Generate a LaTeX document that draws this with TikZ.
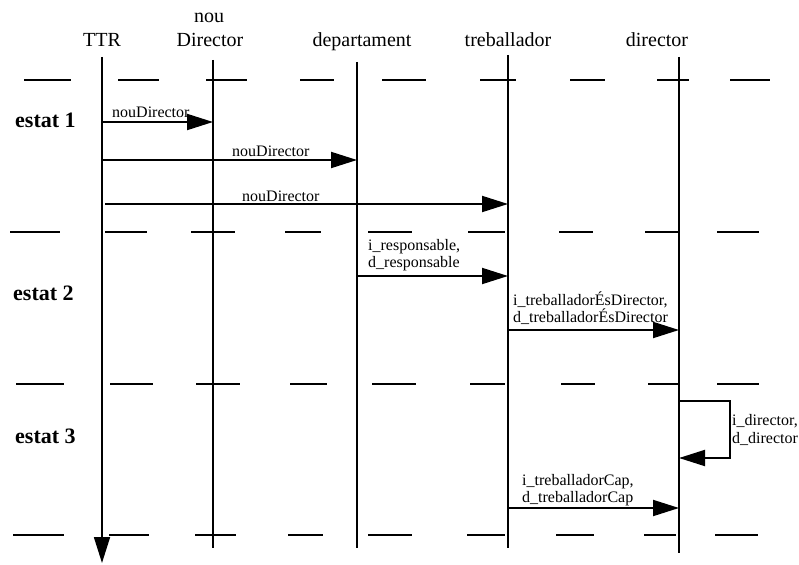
\documentclass[tikz,border=0pt]{standalone}
\usepackage{fontspec}
\setmainfont{Liberation Serif}
\usetikzlibrary{arrows.meta}
\begin{document}
\begin{tikzpicture}[x=1pt,y=-1pt,
  hdr/.style={font=\fontsize{20}{22}\selectfont,anchor=base,inner sep=0pt},
  state/.style={font=\bfseries\fontsize{22}{24}\selectfont,anchor=base west,inner sep=0pt},
  msglab/.style={font=\fontsize{16}{17}\selectfont,anchor=base west,inner sep=0pt},
  lifeline/.style={line width=1.7pt},
  sepdash/.style={line width=2.5pt},
  msg/.style={line width=1.9pt,-{Triangle[length=26pt,width=16pt]}},
  ]
\useasboundingbox (0,0) rectangle (799,564);

% headers
\node[hdr] (hTTR) at (102,47) {TTR};
\node[hdr] (hNou1) at (209,23) {nou};
\node[hdr] (hNou2) at (210,47) {Director};
\node[hdr] (hDep) at (362,47) {departament};
\node[hdr] (hTre) at (508,47) {treballador};
\node[hdr] (hDir) at (657,47) {director};

% lifeline ends
\coordinate (tTTR) at (102,57);  \coordinate (bTTR) at (102,563);
\coordinate (tNou) at (213,60);  \coordinate (bNou) at (213,548);
\coordinate (tDep) at (357,62);  \coordinate (bDep) at (357,548);
\coordinate (tTre) at (508,55);  \coordinate (bTre) at (508,548);
\coordinate (tDir) at (679,57);  \coordinate (bDir) at (679,553);

\draw[lifeline,-{Triangle[length=26pt,width=16pt]}] (tTTR) -- (bTTR);
\draw[lifeline] (tNou) -- (bNou);
\draw[lifeline] (tDep) -- (bDep);
\draw[lifeline] (tTre) -- (bTre);
\draw[lifeline] (tDir) -- (bDir);

% separator dashed rows
\foreach \a/\b in {24/71,118/159,206/247,300/334,382/426,480/516,570/605,657/689,730/770}
  \draw[sepdash] (\a,80) -- (\b,80);
\foreach \a/\b in {10/60,105/147,191/235,285/321,368/412,468/505,559/593,645/679,717/759}
  \draw[sepdash] (\a,232) -- (\b,232);
\foreach \a/\b in {16/64,110/153,196/240,290/327,372/416,470/505,561/595,648/679,717/759}
  \draw[sepdash] (\a,384) -- (\b,384);
\foreach \a/\b in {13/64,109/149,195/236,288/323,368/412,467/505,556/594,644/676,715/758}
  \draw[sepdash] (\a,535) -- (\b,535);

% state labels
\node[state] (s1) at (15,128) {estat 1};
\node[state] (s2) at (13,300) {estat 2};
\node[state] (s3) at (15,443) {estat 3};

% message points
\coordinate (m1a) at (102,122); \coordinate (m1b) at (213,122);
\coordinate (m2a) at (102,160); \coordinate (m2b) at (357,160);
\coordinate (m3a) at (105,204); \coordinate (m3b) at (508,204);
\coordinate (m4a) at (357,276); \coordinate (m4b) at (508,276);
\coordinate (m5a) at (508,330); \coordinate (m5b) at (679,330);
\coordinate (m6a) at (679,401); \coordinate (m6c1) at (730,401);
\coordinate (m6c2) at (730,458); \coordinate (m6b) at (679,458);
\coordinate (m7a) at (508,508); \coordinate (m7b) at (679,508);

\draw[msg] (m1a) -- (m1b);
\draw[msg] (m2a) -- (m2b);
\draw[msg] (m3a) -- (m3b);
\draw[msg] (m4a) -- (m4b);
\draw[msg] (m5a) -- (m5b);
\draw[msg] (m6a) -- (m6c1) -- (m6c2) -- (m6b);
\draw[msg] (m7a) -- (m7b);

% message labels
\node[msglab] (l1) at (112,118) {nouDirector};
\node[msglab] (l2) at (232,157) {nouDirector};
\node[msglab] (l3) at (242,201) {nouDirector};
\node[msglab] (l4a) at (368,250) {i\_responsable,};
\node[msglab] (l4b) at (368,267) {d\_responsable};
\node[msglab] (l5a) at (513,305) {i\_treballadorÉsDirector,};
\node[msglab] (l5b) at (513,322) {d\_treballadorÉsDirector};
\node[msglab] (l6a) at (732,425) {i\_director,};
\node[msglab] (l6b) at (732,443) {d\_director};
\node[msglab] (l7a) at (522,485) {i\_treballadorCap,};
\node[msglab] (l7b) at (522,502) {d\_treballadorCap};
\end{tikzpicture}
\end{document}
